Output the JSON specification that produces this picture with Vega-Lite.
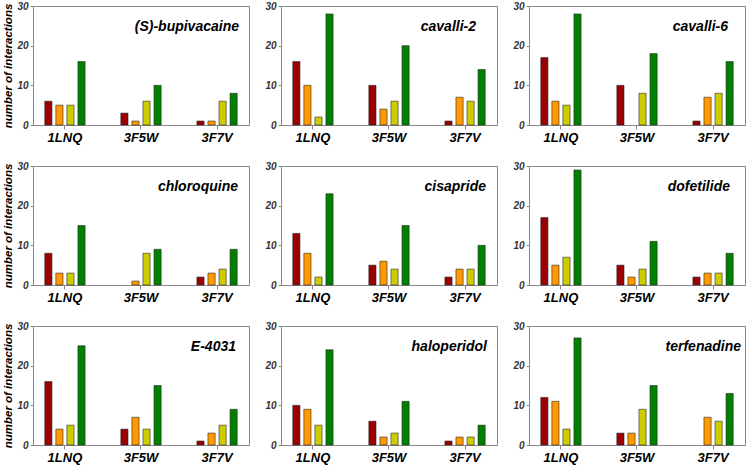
{
  "$schema": "https://vega.github.io/schema/vega-lite/v6.json",
  "padding": {"left": 2, "top": 0, "right": 2, "bottom": 0},
  "bounds": "flush",
  "columns": 3,
  "spacing": {"row": 41, "column": 32},
  "data": {"values": [
    {"drug": "(S)-bupivacaine", "protein": "1LNQ", "type": "A", "n": 6},
    {"drug": "(S)-bupivacaine", "protein": "1LNQ", "type": "B", "n": 5},
    {"drug": "(S)-bupivacaine", "protein": "1LNQ", "type": "C", "n": 5},
    {"drug": "(S)-bupivacaine", "protein": "1LNQ", "type": "D", "n": 16},
    {"drug": "(S)-bupivacaine", "protein": "3F5W", "type": "A", "n": 3},
    {"drug": "(S)-bupivacaine", "protein": "3F5W", "type": "B", "n": 1},
    {"drug": "(S)-bupivacaine", "protein": "3F5W", "type": "C", "n": 6},
    {"drug": "(S)-bupivacaine", "protein": "3F5W", "type": "D", "n": 10},
    {"drug": "(S)-bupivacaine", "protein": "3F7V", "type": "A", "n": 1},
    {"drug": "(S)-bupivacaine", "protein": "3F7V", "type": "B", "n": 1},
    {"drug": "(S)-bupivacaine", "protein": "3F7V", "type": "C", "n": 6},
    {"drug": "(S)-bupivacaine", "protein": "3F7V", "type": "D", "n": 8},
    {"drug": "cavalli-2", "protein": "1LNQ", "type": "A", "n": 16},
    {"drug": "cavalli-2", "protein": "1LNQ", "type": "B", "n": 10},
    {"drug": "cavalli-2", "protein": "1LNQ", "type": "C", "n": 2},
    {"drug": "cavalli-2", "protein": "1LNQ", "type": "D", "n": 28},
    {"drug": "cavalli-2", "protein": "3F5W", "type": "A", "n": 10},
    {"drug": "cavalli-2", "protein": "3F5W", "type": "B", "n": 4},
    {"drug": "cavalli-2", "protein": "3F5W", "type": "C", "n": 6},
    {"drug": "cavalli-2", "protein": "3F5W", "type": "D", "n": 20},
    {"drug": "cavalli-2", "protein": "3F7V", "type": "A", "n": 1},
    {"drug": "cavalli-2", "protein": "3F7V", "type": "B", "n": 7},
    {"drug": "cavalli-2", "protein": "3F7V", "type": "C", "n": 6},
    {"drug": "cavalli-2", "protein": "3F7V", "type": "D", "n": 14},
    {"drug": "cavalli-6", "protein": "1LNQ", "type": "A", "n": 17},
    {"drug": "cavalli-6", "protein": "1LNQ", "type": "B", "n": 6},
    {"drug": "cavalli-6", "protein": "1LNQ", "type": "C", "n": 5},
    {"drug": "cavalli-6", "protein": "1LNQ", "type": "D", "n": 28},
    {"drug": "cavalli-6", "protein": "3F5W", "type": "A", "n": 10},
    {"drug": "cavalli-6", "protein": "3F5W", "type": "C", "n": 8},
    {"drug": "cavalli-6", "protein": "3F5W", "type": "D", "n": 18},
    {"drug": "cavalli-6", "protein": "3F7V", "type": "A", "n": 1},
    {"drug": "cavalli-6", "protein": "3F7V", "type": "B", "n": 7},
    {"drug": "cavalli-6", "protein": "3F7V", "type": "C", "n": 8},
    {"drug": "cavalli-6", "protein": "3F7V", "type": "D", "n": 16},
    {"drug": "chloroquine", "protein": "1LNQ", "type": "A", "n": 8},
    {"drug": "chloroquine", "protein": "1LNQ", "type": "B", "n": 3},
    {"drug": "chloroquine", "protein": "1LNQ", "type": "C", "n": 3},
    {"drug": "chloroquine", "protein": "1LNQ", "type": "D", "n": 15},
    {"drug": "chloroquine", "protein": "3F5W", "type": "B", "n": 1},
    {"drug": "chloroquine", "protein": "3F5W", "type": "C", "n": 8},
    {"drug": "chloroquine", "protein": "3F5W", "type": "D", "n": 9},
    {"drug": "chloroquine", "protein": "3F7V", "type": "A", "n": 2},
    {"drug": "chloroquine", "protein": "3F7V", "type": "B", "n": 3},
    {"drug": "chloroquine", "protein": "3F7V", "type": "C", "n": 4},
    {"drug": "chloroquine", "protein": "3F7V", "type": "D", "n": 9},
    {"drug": "cisapride", "protein": "1LNQ", "type": "A", "n": 13},
    {"drug": "cisapride", "protein": "1LNQ", "type": "B", "n": 8},
    {"drug": "cisapride", "protein": "1LNQ", "type": "C", "n": 2},
    {"drug": "cisapride", "protein": "1LNQ", "type": "D", "n": 23},
    {"drug": "cisapride", "protein": "3F5W", "type": "A", "n": 5},
    {"drug": "cisapride", "protein": "3F5W", "type": "B", "n": 6},
    {"drug": "cisapride", "protein": "3F5W", "type": "C", "n": 4},
    {"drug": "cisapride", "protein": "3F5W", "type": "D", "n": 15},
    {"drug": "cisapride", "protein": "3F7V", "type": "A", "n": 2},
    {"drug": "cisapride", "protein": "3F7V", "type": "B", "n": 4},
    {"drug": "cisapride", "protein": "3F7V", "type": "C", "n": 4},
    {"drug": "cisapride", "protein": "3F7V", "type": "D", "n": 10},
    {"drug": "dofetilide", "protein": "1LNQ", "type": "A", "n": 17},
    {"drug": "dofetilide", "protein": "1LNQ", "type": "B", "n": 5},
    {"drug": "dofetilide", "protein": "1LNQ", "type": "C", "n": 7},
    {"drug": "dofetilide", "protein": "1LNQ", "type": "D", "n": 29},
    {"drug": "dofetilide", "protein": "3F5W", "type": "A", "n": 5},
    {"drug": "dofetilide", "protein": "3F5W", "type": "B", "n": 2},
    {"drug": "dofetilide", "protein": "3F5W", "type": "C", "n": 4},
    {"drug": "dofetilide", "protein": "3F5W", "type": "D", "n": 11},
    {"drug": "dofetilide", "protein": "3F7V", "type": "A", "n": 2},
    {"drug": "dofetilide", "protein": "3F7V", "type": "B", "n": 3},
    {"drug": "dofetilide", "protein": "3F7V", "type": "C", "n": 3},
    {"drug": "dofetilide", "protein": "3F7V", "type": "D", "n": 8},
    {"drug": "E-4031", "protein": "1LNQ", "type": "A", "n": 16},
    {"drug": "E-4031", "protein": "1LNQ", "type": "B", "n": 4},
    {"drug": "E-4031", "protein": "1LNQ", "type": "C", "n": 5},
    {"drug": "E-4031", "protein": "1LNQ", "type": "D", "n": 25},
    {"drug": "E-4031", "protein": "3F5W", "type": "A", "n": 4},
    {"drug": "E-4031", "protein": "3F5W", "type": "B", "n": 7},
    {"drug": "E-4031", "protein": "3F5W", "type": "C", "n": 4},
    {"drug": "E-4031", "protein": "3F5W", "type": "D", "n": 15},
    {"drug": "E-4031", "protein": "3F7V", "type": "A", "n": 1},
    {"drug": "E-4031", "protein": "3F7V", "type": "B", "n": 3},
    {"drug": "E-4031", "protein": "3F7V", "type": "C", "n": 5},
    {"drug": "E-4031", "protein": "3F7V", "type": "D", "n": 9},
    {"drug": "haloperidol", "protein": "1LNQ", "type": "A", "n": 10},
    {"drug": "haloperidol", "protein": "1LNQ", "type": "B", "n": 9},
    {"drug": "haloperidol", "protein": "1LNQ", "type": "C", "n": 5},
    {"drug": "haloperidol", "protein": "1LNQ", "type": "D", "n": 24},
    {"drug": "haloperidol", "protein": "3F5W", "type": "A", "n": 6},
    {"drug": "haloperidol", "protein": "3F5W", "type": "B", "n": 2},
    {"drug": "haloperidol", "protein": "3F5W", "type": "C", "n": 3},
    {"drug": "haloperidol", "protein": "3F5W", "type": "D", "n": 11},
    {"drug": "haloperidol", "protein": "3F7V", "type": "A", "n": 1},
    {"drug": "haloperidol", "protein": "3F7V", "type": "B", "n": 2},
    {"drug": "haloperidol", "protein": "3F7V", "type": "C", "n": 2},
    {"drug": "haloperidol", "protein": "3F7V", "type": "D", "n": 5},
    {"drug": "terfenadine", "protein": "1LNQ", "type": "A", "n": 12},
    {"drug": "terfenadine", "protein": "1LNQ", "type": "B", "n": 11},
    {"drug": "terfenadine", "protein": "1LNQ", "type": "C", "n": 4},
    {"drug": "terfenadine", "protein": "1LNQ", "type": "D", "n": 27},
    {"drug": "terfenadine", "protein": "3F5W", "type": "A", "n": 3},
    {"drug": "terfenadine", "protein": "3F5W", "type": "B", "n": 3},
    {"drug": "terfenadine", "protein": "3F5W", "type": "C", "n": 9},
    {"drug": "terfenadine", "protein": "3F5W", "type": "D", "n": 15},
    {"drug": "terfenadine", "protein": "3F7V", "type": "B", "n": 7},
    {"drug": "terfenadine", "protein": "3F7V", "type": "C", "n": 6},
    {"drug": "terfenadine", "protein": "3F7V", "type": "D", "n": 13}
  ]},
  "concat": [
    {"transform": [{"filter": "datum.drug === '(S)-bupivacaine'"}], "title": {"text": "(S)-bupivacaine", "dx": -10},
     "width": 216, "height": 119, "mark": {"type": "bar"},
     "encoding": {
       "x": {"field": "protein", "type": "nominal", "title": null, "scale": {"domain": ["1LNQ", "3F5W", "3F7V"], "paddingInner": 0.47, "paddingOuter": 0.155}},
       "xOffset": {"field": "type", "type": "nominal", "scale": {"domain": ["A", "B", "C", "D"], "paddingInner": 0.35, "paddingOuter": 0}},
       "y": {"field": "n", "type": "quantitative", "title": "number of interactions", "scale": {"domain": [0, 30]}, "axis": {"values": [0, 10, 20, 30]}},
       "color": {"field": "type", "type": "nominal", "legend": null, "scale": {"domain": ["A", "B", "C", "D"], "range": ["#990000", "#ff9900", "#cccc00", "#008000"]}}}},
    {"transform": [{"filter": "datum.drug === 'cavalli-2'"}], "title": {"text": "cavalli-2", "dx": -21},
     "width": 216, "height": 119, "mark": {"type": "bar"},
     "encoding": {
       "x": {"field": "protein", "type": "nominal", "title": null, "scale": {"domain": ["1LNQ", "3F5W", "3F7V"], "paddingInner": 0.47, "paddingOuter": 0.155}},
       "xOffset": {"field": "type", "type": "nominal", "scale": {"domain": ["A", "B", "C", "D"], "paddingInner": 0.35, "paddingOuter": 0}},
       "y": {"field": "n", "type": "quantitative", "title": null, "scale": {"domain": [0, 30]}, "axis": {"values": [0, 10, 20, 30]}},
       "color": {"field": "type", "type": "nominal", "legend": null, "scale": {"domain": ["A", "B", "C", "D"], "range": ["#990000", "#ff9900", "#cccc00", "#008000"]}}}},
    {"transform": [{"filter": "datum.drug === 'cavalli-6'"}], "title": {"text": "cavalli-6", "dx": -17},
     "width": 216, "height": 119, "mark": {"type": "bar"},
     "encoding": {
       "x": {"field": "protein", "type": "nominal", "title": null, "scale": {"domain": ["1LNQ", "3F5W", "3F7V"], "paddingInner": 0.47, "paddingOuter": 0.155}},
       "xOffset": {"field": "type", "type": "nominal", "scale": {"domain": ["A", "B", "C", "D"], "paddingInner": 0.35, "paddingOuter": 0}},
       "y": {"field": "n", "type": "quantitative", "title": null, "scale": {"domain": [0, 30]}, "axis": {"values": [0, 10, 20, 30]}},
       "color": {"field": "type", "type": "nominal", "legend": null, "scale": {"domain": ["A", "B", "C", "D"], "range": ["#990000", "#ff9900", "#cccc00", "#008000"]}}}},
    {"transform": [{"filter": "datum.drug === 'chloroquine'"}], "title": {"text": "chloroquine", "dx": -11},
     "width": 216, "height": 119, "mark": {"type": "bar"},
     "encoding": {
       "x": {"field": "protein", "type": "nominal", "title": null, "scale": {"domain": ["1LNQ", "3F5W", "3F7V"], "paddingInner": 0.47, "paddingOuter": 0.155}},
       "xOffset": {"field": "type", "type": "nominal", "scale": {"domain": ["A", "B", "C", "D"], "paddingInner": 0.35, "paddingOuter": 0}},
       "y": {"field": "n", "type": "quantitative", "title": "number of interactions", "scale": {"domain": [0, 30]}, "axis": {"values": [0, 10, 20, 30]}},
       "color": {"field": "type", "type": "nominal", "legend": null, "scale": {"domain": ["A", "B", "C", "D"], "range": ["#990000", "#ff9900", "#cccc00", "#008000"]}}}},
    {"transform": [{"filter": "datum.drug === 'cisapride'"}], "title": {"text": "cisapride", "dx": -11},
     "width": 216, "height": 119, "mark": {"type": "bar"},
     "encoding": {
       "x": {"field": "protein", "type": "nominal", "title": null, "scale": {"domain": ["1LNQ", "3F5W", "3F7V"], "paddingInner": 0.47, "paddingOuter": 0.155}},
       "xOffset": {"field": "type", "type": "nominal", "scale": {"domain": ["A", "B", "C", "D"], "paddingInner": 0.35, "paddingOuter": 0}},
       "y": {"field": "n", "type": "quantitative", "title": null, "scale": {"domain": [0, 30]}, "axis": {"values": [0, 10, 20, 30]}},
       "color": {"field": "type", "type": "nominal", "legend": null, "scale": {"domain": ["A", "B", "C", "D"], "range": ["#990000", "#ff9900", "#cccc00", "#008000"]}}}},
    {"transform": [{"filter": "datum.drug === 'dofetilide'"}], "title": {"text": "dofetilide", "dx": -15},
     "width": 216, "height": 119, "mark": {"type": "bar"},
     "encoding": {
       "x": {"field": "protein", "type": "nominal", "title": null, "scale": {"domain": ["1LNQ", "3F5W", "3F7V"], "paddingInner": 0.47, "paddingOuter": 0.155}},
       "xOffset": {"field": "type", "type": "nominal", "scale": {"domain": ["A", "B", "C", "D"], "paddingInner": 0.35, "paddingOuter": 0}},
       "y": {"field": "n", "type": "quantitative", "title": null, "scale": {"domain": [0, 30]}, "axis": {"values": [0, 10, 20, 30]}},
       "color": {"field": "type", "type": "nominal", "legend": null, "scale": {"domain": ["A", "B", "C", "D"], "range": ["#990000", "#ff9900", "#cccc00", "#008000"]}}}},
    {"transform": [{"filter": "datum.drug === 'E-4031'"}], "title": {"text": "E-4031", "dx": -13},
     "width": 216, "height": 119, "mark": {"type": "bar"},
     "encoding": {
       "x": {"field": "protein", "type": "nominal", "title": null, "scale": {"domain": ["1LNQ", "3F5W", "3F7V"], "paddingInner": 0.47, "paddingOuter": 0.155}},
       "xOffset": {"field": "type", "type": "nominal", "scale": {"domain": ["A", "B", "C", "D"], "paddingInner": 0.35, "paddingOuter": 0}},
       "y": {"field": "n", "type": "quantitative", "title": "number of interactions", "scale": {"domain": [0, 30]}, "axis": {"values": [0, 10, 20, 30]}},
       "color": {"field": "type", "type": "nominal", "legend": null, "scale": {"domain": ["A", "B", "C", "D"], "range": ["#990000", "#ff9900", "#cccc00", "#008000"]}}}},
    {"transform": [{"filter": "datum.drug === 'haloperidol'"}], "title": {"text": "haloperidol", "dx": -10},
     "width": 216, "height": 119, "mark": {"type": "bar"},
     "encoding": {
       "x": {"field": "protein", "type": "nominal", "title": null, "scale": {"domain": ["1LNQ", "3F5W", "3F7V"], "paddingInner": 0.47, "paddingOuter": 0.155}},
       "xOffset": {"field": "type", "type": "nominal", "scale": {"domain": ["A", "B", "C", "D"], "paddingInner": 0.35, "paddingOuter": 0}},
       "y": {"field": "n", "type": "quantitative", "title": null, "scale": {"domain": [0, 30]}, "axis": {"values": [0, 10, 20, 30]}},
       "color": {"field": "type", "type": "nominal", "legend": null, "scale": {"domain": ["A", "B", "C", "D"], "range": ["#990000", "#ff9900", "#cccc00", "#008000"]}}}},
    {"transform": [{"filter": "datum.drug === 'terfenadine'"}], "title": {"text": "terfenadine", "dx": -4},
     "width": 216, "height": 119, "mark": {"type": "bar"},
     "encoding": {
       "x": {"field": "protein", "type": "nominal", "title": null, "scale": {"domain": ["1LNQ", "3F5W", "3F7V"], "paddingInner": 0.47, "paddingOuter": 0.155}},
       "xOffset": {"field": "type", "type": "nominal", "scale": {"domain": ["A", "B", "C", "D"], "paddingInner": 0.35, "paddingOuter": 0}},
       "y": {"field": "n", "type": "quantitative", "title": null, "scale": {"domain": [0, 30]}, "axis": {"values": [0, 10, 20, 30]}},
       "color": {"field": "type", "type": "nominal", "legend": null, "scale": {"domain": ["A", "B", "C", "D"], "range": ["#990000", "#ff9900", "#cccc00", "#008000"]}}}}
  ],
  "config": {
    "view": {"stroke": "#888888", "strokeWidth": 1},
    "bar": {"stroke": "#2a2a2a", "strokeWidth": 0.6},
    "axis": {"grid": false, "domainColor": "#888888", "tickColor": "#888888", "labelFont": "Liberation Sans", "labelFontStyle": "italic", "labelFontWeight": "bold", "titleFont": "Liberation Sans", "titleFontStyle": "italic", "titleFontWeight": "bold", "titleColor": "#000000", "titleFontSize": 11.5},
    "axisY": {"labelFontSize": 10, "tickSize": 3, "labelPadding": 2, "labelColor": "#333333", "titlePadding": 3},
    "axisX": {"labelFontSize": 13, "labelAngle": 0, "tickSize": 4, "labelPadding": 2, "labelColor": "#000000"},
    "title": {"font": "Liberation Sans", "fontSize": 14, "fontStyle": "italic", "fontWeight": "bold", "anchor": "end", "orient": "top", "offset": 0, "dy": 37, "baseline": "middle", "color": "#000000"}
  }
}
